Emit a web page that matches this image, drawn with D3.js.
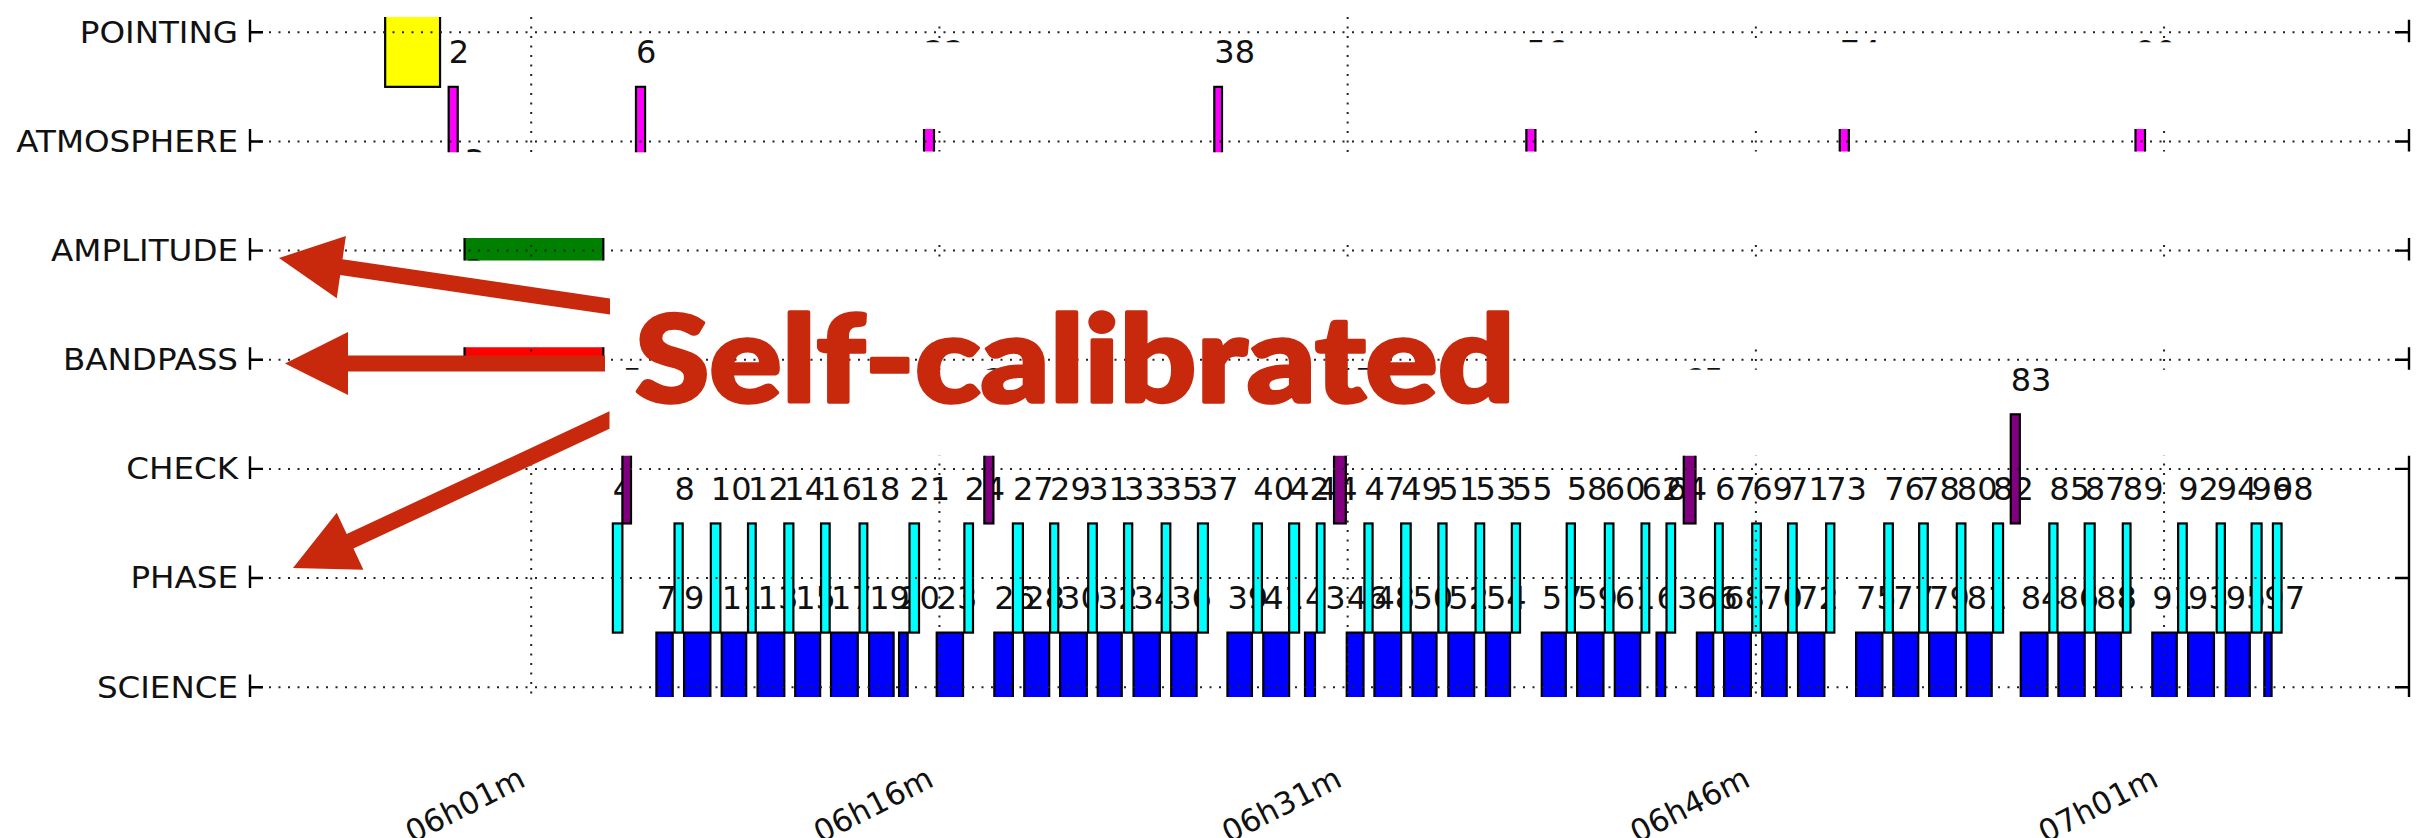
<!DOCTYPE html>
<html>
<head>
<meta charset="utf-8">
<script src="https://cdn.jsdelivr.net/npm/d3@7"></script>
<style>
  html, body { margin: 0; padding: 0; background: #ffffff; }
  svg { display: block; }
</style>
</head>
<body>
<svg id="chart" width="2424" height="838"></svg>
<script>
// Scan intents, top row first
const categories = ["POINTING", "ATMOSPHERE", "AMPLITUDE", "BANDPASS", "CHECK", "PHASE", "SCIENCE"];

// Axis tick labels (UT)
const tickLabels = ["06h01m", "06h16m", "06h31m", "06h46m", "07h01m"];

// Scan numbers
const scanIds = [
  1, 2, 3, 4, 5, 6, 7, 8, 9, 10, 11, 12, 13, 14, 15, 16, 17, 18, 19, 20,
  21, 22, 23, 24, 25, 26, 27, 28, 29, 30, 31, 32, 33, 34, 35, 36, 37, 38, 39, 40,
  41, 42, 43, 44, 45, 46, 47, 48, 49, 50, 51, 52, 53, 54, 55, 56, 57, 58, 59, 60,
  61, 62, 63, 64, 65, 66, 67, 68, 69, 70, 71, 72, 73, 74, 75, 76, 77, 78, 79, 80,
  81, 82, 83, 84, 85, 86, 87, 88, 89, 90, 91, 92, 93, 94, 95, 96, 97, 98
];

// Intent(s) of every scan ("+" joins intents observed together)
const scanIntents = [
  "POINTING", "ATMOSPHERE", "AMPLITUDE+BANDPASS", "PHASE", "CHECK", "ATMOSPHERE", "SCIENCE", "PHASE", "SCIENCE", "PHASE",
  "SCIENCE", "PHASE", "SCIENCE", "PHASE", "SCIENCE", "PHASE", "SCIENCE", "PHASE", "SCIENCE", "SCIENCE",
  "PHASE", "ATMOSPHERE", "SCIENCE", "PHASE", "CHECK", "SCIENCE", "PHASE", "SCIENCE", "PHASE", "SCIENCE",
  "PHASE", "SCIENCE", "PHASE", "SCIENCE", "PHASE", "SCIENCE", "PHASE", "ATMOSPHERE", "SCIENCE", "PHASE",
  "SCIENCE", "PHASE", "SCIENCE", "PHASE", "CHECK", "SCIENCE", "PHASE", "SCIENCE", "PHASE", "SCIENCE",
  "PHASE", "SCIENCE", "PHASE", "SCIENCE", "PHASE", "ATMOSPHERE", "SCIENCE", "PHASE", "SCIENCE", "PHASE",
  "SCIENCE", "PHASE", "SCIENCE", "PHASE", "CHECK", "SCIENCE", "PHASE", "SCIENCE", "PHASE", "SCIENCE",
  "PHASE", "SCIENCE", "PHASE", "ATMOSPHERE", "SCIENCE", "PHASE", "SCIENCE", "PHASE", "SCIENCE", "PHASE",
  "SCIENCE", "PHASE", "CHECK", "SCIENCE", "PHASE", "SCIENCE", "PHASE", "SCIENCE", "PHASE", "ATMOSPHERE",
  "SCIENCE", "PHASE", "SCIENCE", "PHASE", "SCIENCE", "PHASE", "SCIENCE", "PHASE"
];

// Scan start / end times (UT)
const scanStart = [
  "05:55:38", "05:57:58", "05:58:33", "06:04:00", "06:04:21", "06:04:51", "06:05:36", "06:06:16", "06:06:37", "06:07:36",
  "06:08:00", "06:08:58", "06:09:19", "06:10:18", "06:10:42", "06:11:39", "06:12:01", "06:13:04", "06:13:25", "06:14:31",
  "06:14:54", "06:15:26", "06:15:54", "06:16:55", "06:17:39", "06:18:01", "06:18:42", "06:19:07", "06:20:04", "06:20:26",
  "06:21:28", "06:21:49", "06:22:47", "06:23:08", "06:24:10", "06:24:31", "06:25:30", "06:26:06", "06:26:35", "06:27:32",
  "06:27:54", "06:28:51", "06:29:26", "06:29:52", "06:30:30", "06:30:58", "06:31:37", "06:31:59", "06:32:58", "06:33:23",
  "06:34:20", "06:34:42", "06:35:42", "06:36:05", "06:37:02", "06:37:34", "06:38:08", "06:39:03", "06:39:26", "06:40:27",
  "06:40:49", "06:41:48", "06:42:21", "06:42:43", "06:43:21", "06:43:50", "06:44:30", "06:44:50", "06:45:52", "06:46:14",
  "06:47:11", "06:47:33", "06:48:35", "06:49:05", "06:49:41", "06:50:43", "06:51:03", "06:52:00", "06:52:22", "06:53:23",
  "06:53:45", "06:54:43", "06:55:22", "06:55:44", "06:56:47", "06:57:07", "06:58:05", "06:58:30", "06:59:29", "06:59:57",
  "07:00:34", "07:01:31", "07:01:53", "07:02:56", "07:03:16", "07:04:13", "07:04:41", "07:05:00"
];
const scanEnd = [
  "05:57:39", "05:58:18", "06:03:39", "06:04:21", "06:04:40", "06:05:11", "06:06:12", "06:06:34", "06:07:35", "06:07:57",
  "06:08:54", "06:09:15", "06:10:18", "06:10:38", "06:11:37", "06:11:58", "06:13:00", "06:13:21", "06:14:19", "06:14:50",
  "06:15:15", "06:15:48", "06:16:52", "06:17:14", "06:17:59", "06:18:42", "06:19:04", "06:20:02", "06:20:22", "06:21:25",
  "06:21:47", "06:22:42", "06:23:05", "06:24:06", "06:24:29", "06:25:27", "06:25:52", "06:26:23", "06:27:29", "06:27:51",
  "06:28:51", "06:29:13", "06:29:48", "06:30:09", "06:30:56", "06:31:35", "06:31:55", "06:32:58", "06:33:19", "06:34:16",
  "06:34:38", "06:35:39", "06:36:01", "06:36:58", "06:37:20", "06:37:54", "06:39:01", "06:39:21", "06:40:24", "06:40:46",
  "06:41:45", "06:42:05", "06:42:40", "06:43:02", "06:43:47", "06:44:26", "06:44:47", "06:45:49", "06:46:11", "06:47:08",
  "06:47:30", "06:48:31", "06:48:53", "06:49:25", "06:50:39", "06:51:02", "06:51:58", "06:52:19", "06:53:21", "06:53:42",
  "06:54:40", "06:55:05", "06:55:42", "06:56:43", "06:57:05", "06:58:05", "06:58:27", "06:59:25", "06:59:46", "07:00:18",
  "07:01:28", "07:01:50", "07:02:50", "07:03:14", "07:04:09", "07:04:35", "07:04:57", "07:05:19"
];

// Parts of the upper calibration rows that stay on show (time range, row range)
const shownWindows = [
  { from: "05:51:05", to: "06:07:10", rowLo: 4.9, rowHi: 6.14 },
  { from: "06:24:05", to: "06:33:35", rowLo: 4.9, rowHi: 6.14 },
  { from: "06:54:55", to: "06:57:55", rowLo: 2.12, rowHi: 3.0 }
];

const intentColor = {
  POINTING: "#ffff00", ATMOSPHERE: "#ff00ff", AMPLITUDE: "#008000", BANDPASS: "#ff0000",
  CHECK: "#800080", PHASE: "#00ffff", SCIENCE: "#0000ff"
};

const W = 2424, H = 838;
const FONT = "'DejaVu Sans', 'Liberation Sans', sans-serif";
const svg = d3.select("#chart");

const parseT = s => new Date("2000-01-01T" + s + "Z");
const x = d3.scaleUtc()
  .domain([parseT("05:50:40"), parseT("07:10:00")])
  .range([250, 2409]);
const rowOf = c => categories.length - 1 - categories.indexOf(c);
const y = d3.scaleLinear().domain([-0.09, 6.14]).range([697, 17]);
const [xL, xR] = x.range();
const [yB, yT] = y.range();

// ---- visible area: thin strips on the calibration rows, full lower panel ----
const defs = svg.append("defs");
const clip = defs.append("clipPath").attr("id", "shown");
categories.forEach(c => {
  const r = rowOf(c);
  clip.append("rect")
    .attr("x", 240).attr("width", W - 240)
    .attr("y", y(r + 0.115)).attr("height", y(r - 0.092) - y(r + 0.115));
});
clip.append("rect")
  .attr("x", 255).attr("width", W - 255)
  .attr("y", y(2.12)).attr("height", y(-0.09) - y(2.12));
shownWindows.forEach(w => {
  clip.append("rect")
    .attr("x", x(parseT(w.from))).attr("width", x(parseT(w.to)) - x(parseT(w.from)))
    .attr("y", y(w.rowHi)).attr("height", y(w.rowLo) - y(w.rowHi));
});
const plotClip = defs.append("clipPath").attr("id", "plot");
plotClip.append("rect").attr("x", xL).attr("y", yT).attr("width", xR - xL).attr("height", yB - yT);

const plot = svg.append("g").attr("clip-path", "url(#shown)");
const inner = plot.append("g").attr("clip-path", "url(#plot)");

// ---- scans: bar per intent, scan number above it ----
const scans = scanIds.map((id, i) => ({
  id,
  intents: scanIntents[i].split("+"),
  t0: parseT(scanStart[i]),
  t1: parseT(scanEnd[i])
}));

scans.forEach(s => {
  s.intents.forEach(intent => {
    const r = rowOf(intent);
    inner.append("rect")
      .attr("x", x(s.t0))
      .attr("width", x(s.t1) - x(s.t0))
      .attr("y", y(r + 0.5))
      .attr("height", y(r - 0.5) - y(r + 0.5))
      .attr("fill", intentColor[intent])
      .attr("stroke", "#000")
      .attr("stroke-width", 2.2);
  });
  s.intents.forEach(intent => {
    const r = rowOf(intent);
    inner.append("text")
      .attr("x", x(s.t0))
      .attr("y", y(r + 0.716))
      .attr("font-family", FONT)
      .attr("font-size", 32)
      .attr("fill", "#111")
      .text(s.id);
  });
});

// ---- dotted grid ----
const tickTimes = tickLabels.map(s => parseT(s.slice(0, 2) + ":" + s.slice(3, 5) + ":00"));
const grid = plot.append("g")
  .attr("stroke", "#222").attr("stroke-width", 2).attr("stroke-dasharray", "2,7.5").attr("fill", "none");
categories.forEach(c => {
  const r = rowOf(c);
  grid.append("line").attr("x1", xL).attr("x2", xR).attr("y1", y(r)).attr("y2", y(r));
});
tickTimes.forEach(t => {
  grid.append("line").attr("x1", x(t)).attr("x2", x(t)).attr("y1", yT).attr("y2", yB);
});

// ---- frame and row ticks ----
const frame = plot.append("g").attr("stroke", "#000").attr("stroke-width", 2.4);
frame.append("line").attr("x1", xL).attr("x2", xL).attr("y1", yT).attr("y2", yB);
frame.append("line").attr("x1", xR).attr("x2", xR).attr("y1", yT).attr("y2", yB);
categories.forEach(c => {
  const r = rowOf(c);
  frame.append("line").attr("x1", xL).attr("x2", xL + 13).attr("y1", y(r)).attr("y2", y(r));
  frame.append("line").attr("x1", xR - 14).attr("x2", xR).attr("y1", y(r)).attr("y2", y(r));
});

// ---- axes ----
const yAxis = svg.append("g")
  .attr("transform", `translate(${xL},0)`)
  .call(d3.axisLeft(y)
    .tickValues(categories.map(rowOf))
    .tickFormat(r => categories[categories.length - 1 - r])
    .tickSize(0).tickPadding(12));
yAxis.select(".domain").remove();
yAxis.selectAll("text")
  .attr("font-family", FONT).attr("font-size", 31).attr("fill", "#111")
  .attr("x", 0)
  .attr("transform", "translate(-12,0) scale(1.05,1)");

const xAxis = svg.append("g")
  .attr("transform", "translate(0,783)")
  .call(d3.axisBottom(x).tickValues(tickTimes).tickFormat((d, i) => tickLabels[i]).tickSize(0));
xAxis.select(".domain").remove();
xAxis.selectAll("text")
  .attr("font-family", FONT).attr("font-size", 31).attr("fill", "#111")
  .attr("x", -5).attr("y", 0).attr("dy", null)
  .attr("text-anchor", "end")
  .attr("transform", "rotate(-27)");

// ---- annotation ----
const RED = "#c8290c";
function arrowPoly(tail, tip, w, hl, hw) {
  const dx = tip[0] - tail[0], dy = tip[1] - tail[1], L = Math.hypot(dx, dy);
  const u = [dx / L, dy / L], n = [-u[1], u[0]];
  const B = [tip[0] - u[0] * hl, tip[1] - u[1] * hl];
  const side = s => {
    const ox = n[0] * w / 2 * s, oy = n[1] * w / 2 * s;
    const t = -ox / u[0];
    return [
      [tail[0], tail[1] + oy + t * u[1]],
      [B[0] + ox, B[1] + oy],
      [B[0] + n[0] * hw * s, B[1] + n[1] * hw * s]
    ];
  };
  const a = side(1), b = side(-1);
  return [a[0], a[1], a[2], tip, b[2], b[1], b[0]];
}
const arrows = [
  { tail: [610, 306.5], tip: [279, 258] },
  { tail: [605, 363.4], tip: [285, 363.4] },
  { tail: [609.5, 420], tip: [293, 568] }
];
const note = svg.append("g");
arrows.forEach(a => {
  note.append("polygon")
    .attr("points", arrowPoly(a.tail, a.tip, 16, 63, 31.5).map(p => p.join(",")).join(" "))
    .attr("fill", RED);
});
note.append("text")
  .attr("x", 635).attr("y", 402)
  .attr("font-family", "Lato, 'Open Sans', 'DejaVu Sans', sans-serif")
  .attr("font-weight", 900)
  .attr("font-size", 121)
  .attr("textLength", 880)
  .attr("lengthAdjust", "spacingAndGlyphs")
  .attr("fill", RED)
  .attr("stroke", RED)
  .attr("stroke-width", 3.5)
  .attr("stroke-linejoin", "round")
  .text("Self-calibrated");
</script>
</body>
</html>
